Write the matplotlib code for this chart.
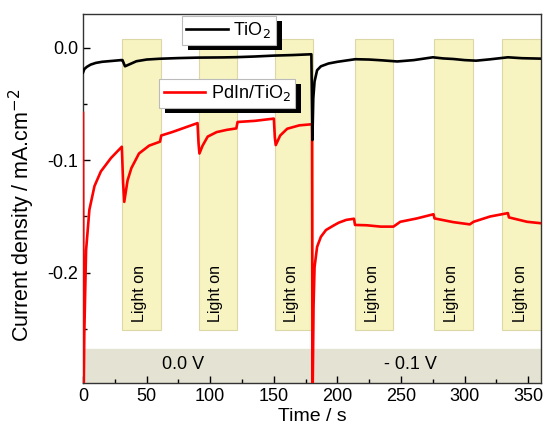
import numpy as np
import matplotlib
matplotlib.use('Agg')
import matplotlib.pyplot as plt
from matplotlib.patches import Rectangle
from matplotlib.ticker import MultipleLocator

matplotlib.rcParams['font.family'] = ['Liberation Sans', 'DejaVu Sans']
matplotlib.rcParams['axes.unicode_minus'] = False

# TiO2 (black)
t_tio2 = [0, 1, 3, 6, 10, 15, 22, 30, 31, 33, 36, 42, 50, 60, 75, 90, 110, 120, 135, 150,
          165, 179.5, 180.3, 181, 182, 184, 187, 193, 200, 214, 225, 235, 247, 260, 275,
          283, 291, 300, 309, 320, 334, 345, 360]
j_tio2 = [-0.022, -0.019, -0.017, -0.015, -0.0135, -0.0125, -0.0118, -0.011, -0.011, -0.0165,
          -0.015, -0.012, -0.0105, -0.0098, -0.0092, -0.0088, -0.0086, -0.0084, -0.0078, -0.007,
          -0.0065, -0.0058, -0.082, -0.045, -0.030, -0.020, -0.0165, -0.014, -0.0125, -0.0102,
          -0.0105, -0.0112, -0.0122, -0.011, -0.0085, -0.0095, -0.010, -0.011, -0.0115, -0.0103,
          -0.0085, -0.0093, -0.0097]

# PdIn/TiO2 (red)
t_pdin = [0, 0.4, 1, 2.4, 5, 9, 14, 22, 30.5, 31.5, 32.4, 35, 38, 44, 52, 60.5, 61.5, 70, 80,
          90, 90.8, 91.5, 94, 98, 105, 113, 120.5, 121.5, 135, 150, 150.8, 151.5, 155, 160.5,
          170, 180, 180.4, 181.2, 182, 184, 187, 191, 197, 201, 207, 213, 213.8, 223, 234, 244,
          249.4, 262.5, 275.5, 276.3, 291, 304, 307, 320, 334, 334.8, 349, 360]
j_pdin = [-0.058, -0.32, -0.254, -0.18, -0.144, -0.123, -0.110, -0.098, -0.088, -0.120, -0.137,
          -0.118, -0.107, -0.094, -0.087, -0.0835, -0.078, -0.075, -0.071, -0.067, -0.085, -0.094,
          -0.087, -0.079, -0.075, -0.073, -0.0717, -0.066, -0.065, -0.063, -0.080, -0.0865, -0.078,
          -0.072, -0.069, -0.068, -0.32, -0.23, -0.195, -0.177, -0.168, -0.162, -0.158, -0.1555,
          -0.153, -0.152, -0.1575, -0.1578, -0.159, -0.159, -0.1547, -0.1517, -0.148, -0.1517,
          -0.155, -0.157, -0.1547, -0.150, -0.147, -0.1508, -0.1547, -0.156]

light_on = [(31, 61), (91, 121), (151, 180.5), (214, 244), (276, 306.5), (329, 362)]
box_low, box_high = -0.251, 0.008
bias_labels = ['0.0 V', '- 0.1 V']
bias_x = [79, 257]

fig = plt.figure(figsize=(5.43, 4.41), dpi=100)
ax = fig.add_axes([0.1529, 0.1315, 0.8434, 0.8368])

for t0, t1 in light_on:
    ax.add_patch(Rectangle((t0, box_low), t1 - t0, box_high - box_low,
                           facecolor='#f7f4c2', edgecolor='#dcd8a6', lw=0.8, zorder=1))
    ax.text((t0 + t1) / 2 - 1.5, -0.218, 'Light on', rotation=90, ha='center', va='center',
            fontsize=11.5, zorder=2)

ax.axhspan(-0.32, -0.268, color='#e4e2d2', zorder=1)
for lab, x in zip(bias_labels, bias_x):
    ax.text(x, -0.2815, lab, ha='center', va='center', fontsize=13, zorder=2)

l_pd, = ax.plot(t_pdin, j_pdin, color='red', lw=1.9, zorder=3, label='PdIn/TiO$_2$')
l_ti, = ax.plot(t_tio2, j_tio2, color='black', lw=1.9, zorder=4, label='TiO$_2$')

ax.set_xlim(0, 360)
ax.set_ylim(-0.298, 0.03)
ax.xaxis.set_major_locator(MultipleLocator(50))
ax.xaxis.set_minor_locator(MultipleLocator(25))
ax.yaxis.set_major_locator(MultipleLocator(0.1))
ax.yaxis.set_minor_locator(MultipleLocator(0.05))
ax.yaxis.set_major_formatter(matplotlib.ticker.FormatStrFormatter('%.1f'))
ax.tick_params(which='both', direction='in', labelsize=13, top=False, right=False)
ax.tick_params(which='major', length=5, width=1)
ax.tick_params(which='minor', length=3, width=1)
for s in ax.spines.values():
    s.set_color('#333333')
    s.set_linewidth(1)

ax.set_xlabel('Time / s', fontsize=14, labelpad=2)
ax.set_ylabel('Current density / mA.cm$^{-2}$', fontsize=15.5)
ax.yaxis.set_label_coords(-0.10, 0.455)

leg_kw = dict(loc='upper left', fontsize=13, fancybox=False, framealpha=1,
              edgecolor='#bbbbbb', handlelength=2.3, handletextpad=0.3,
              borderaxespad=0, borderpad=0.25)
leg1 = ax.legend(handles=[l_ti], bbox_to_anchor=(0.216, 0.995), **leg_kw)
ax.add_artist(leg1)
leg2 = ax.legend(handles=[l_pd], bbox_to_anchor=(0.166, 0.824), **leg_kw)
for lg in (leg1, leg2):
    lg.get_frame().set_linewidth(0.8)
    lg.set_zorder(6)

# dark drop shadows behind the legend boxes
fig.canvas.draw()
for lg in (leg1, leg2):
    bb = lg.get_frame().get_window_extent()
    sh = Rectangle((bb.x0 + 6, bb.y0 - 5), bb.width, bb.height,
                   transform=None, facecolor='black', zorder=5, clip_on=False)
    ax.add_artist(sh)

fig.savefig('out.png', dpi=100)
